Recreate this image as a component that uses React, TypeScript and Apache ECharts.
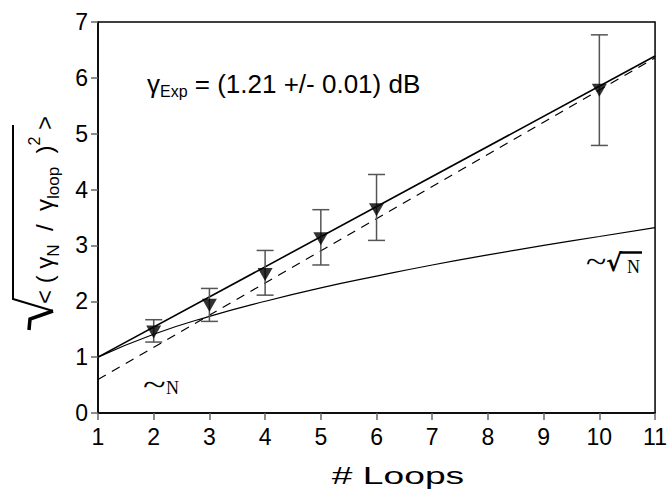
import React, { useEffect, useRef } from 'react';
import * as echarts from 'echarts';

// Measured points (# loops vs normalized spread)
const loops = [2, 3, 4, 5, 6, 10];
const ratio = [1.45, 1.93, 2.48, 3.12, 3.64, 5.78];
const errLow = [1.27, 1.64, 2.11, 2.65, 3.09, 4.79];
const errHigh = [1.67, 2.23, 2.91, 3.64, 4.27, 6.77];

// Fit line (solid) and ~N line (dashed)
const fitX = [1, 11];
const fitY = [1.0, 6.39];
const linX = [1, 11];
const linY = [0.6, 6.36];

// ~sqrt(N) curve values
const sqrtX = [1, 2, 3, 4, 5, 6, 7, 8, 9, 10, 11];
const sqrtY = [1.0, 1.41, 1.73, 2.0, 2.24, 2.45, 2.65, 2.83, 3.0, 3.16, 3.32];

const SANS = '"Liberation Sans", Arial, sans-serif';
const SERIF = '"Liberation Serif", "Times New Roman", serif';

export default function App() {
  const ref = useRef<HTMLDivElement>(null);
  useEffect(() => {
    if (!ref.current) return;
    const chart = echarts.init(ref.current, null, { renderer: 'svg' });
    const axisLabel = { fontSize: 23, color: '#000', fontFamily: SANS };
    const option: any = {
      animation: false,
      backgroundColor: '#fff',
      grid: {
        left: 98, top: 22, right: 14, bottom: 78,
        show: true, borderColor: '#000', borderWidth: 1.5, containLabel: false,
      },
      xAxis: {
        type: 'value', min: 1, max: 11, interval: 1,
        axisLine: { show: true, lineStyle: { color: '#000', width: 1.5 } },
        axisTick: { show: true, length: 7, lineStyle: { color: '#666', width: 1.5 } },
        axisLabel: { ...axisLabel, margin: 12 },
        splitLine: { show: false },
      },
      yAxis: {
        type: 'value', min: 0, max: 7, interval: 1,
        axisLine: { show: true, lineStyle: { color: '#000', width: 1.5 } },
        axisTick: { show: true, length: 7, lineStyle: { color: '#666', width: 1.5 } },
        axisLabel: { ...axisLabel, margin: 10 },
        splitLine: { show: false },
      },
      series: [
        {
          type: 'line', data: sqrtX.map((x, i) => [x, sqrtY[i]]), smooth: true,
          showSymbol: false, lineStyle: { color: '#000', width: 1.2 }, z: 2,
        },
        {
          type: 'line', data: linX.map((x, i) => [x, linY[i]]),
          showSymbol: false, lineStyle: { color: '#000', width: 1.2, type: [9, 7] }, z: 2,
        },
        {
          type: 'line', data: fitX.map((x, i) => [x, fitY[i]]),
          showSymbol: false, lineStyle: { color: '#000', width: 1.6 }, z: 2,
        },
        {
          type: 'custom',
          data: loops.map((x, i) => [x, errLow[i], errHigh[i]]),
          encode: { x: 0, y: [1, 2] },
          z: 3,
          renderItem: (params: any, api: any) => {
            const x = api.value(0);
            const lo = api.coord([x, api.value(1)]);
            const hi = api.coord([x, api.value(2)]);
            const hw = 8.5;
            const style = { stroke: '#555', lineWidth: 1.5, fill: null };
            return {
              type: 'group',
              children: [
                { type: 'line', shape: { x1: lo[0], y1: lo[1], x2: hi[0], y2: hi[1] }, style },
                { type: 'line', shape: { x1: lo[0] - hw, y1: lo[1], x2: lo[0] + hw, y2: lo[1] }, style },
                { type: 'line', shape: { x1: hi[0] - hw, y1: hi[1], x2: hi[0] + hw, y2: hi[1] }, style },
              ],
            };
          },
        },
        {
          type: 'scatter', data: loops.map((x, i) => [x, ratio[i]]),
          symbol: 'triangle', symbolRotate: 180, symbolSize: [15, 13],
          itemStyle: { color: '#000' }, z: 5,
        },
      ],
      graphic: [
        // y-axis label: radical sign + rotated text
        {
          type: 'polyline', z: 10,
          shape: { points: [[13, 125], [13, 299], [53, 311]] },
          style: { stroke: '#000', lineWidth: 2, fill: null },
        },
        {
          type: 'polyline', z: 10,
          shape: { points: [[53, 311], [30, 319], [29, 330]] },
          style: { stroke: '#000', lineWidth: 3.5, fill: null, lineJoin: 'miter' },
        },
        {
          type: 'group', x: 44, y: 210, rotation: Math.PI / 2, z: 10,
          children: [
            {
              type: 'text', x: 0, y: 0,
              style: {
                text: '{m|< ( γ}{s|N}{m|  /  γ}{s|loop}{m|  )}{p|2}{m| >}',
                align: 'center', verticalAlign: 'middle', fill: '#000',
                rich: {
                  m: { fontSize: 24, fontFamily: SANS, fill: '#000', lineHeight: 36, verticalAlign: 'middle' },
                  s: { fontSize: 17, fontFamily: SANS, fill: '#000', lineHeight: 16, verticalAlign: 'bottom' },
                  p: { fontSize: 16, fontFamily: SANS, fill: '#000', lineHeight: 10, verticalAlign: 'top' },
                },
              },
            },
          ],
        },
        // annotation
        {
          type: 'text', x: 147, y: 84, z: 10,
          style: {
            text: '{g|γ}{s|Exp}{m| = (1.21 +/- 0.01) dB}',
            align: 'left', verticalAlign: 'middle', fill: '#000',
            rich: {
              g: { fontSize: 26, fontFamily: SANS, fill: '#000', lineHeight: 30, verticalAlign: 'middle' },
              m: { fontSize: 26, fontFamily: SANS, fill: '#000', lineHeight: 30, verticalAlign: 'middle' },
              s: { fontSize: 16, fontFamily: SANS, fill: '#000', lineHeight: 18, verticalAlign: 'bottom' },
            },
          },
        },
        // ~N label
        {
          type: 'text', x: 143, y: 385, z: 10, scaleX: 1.4,
          style: { text: '~', fontSize: 30, fontFamily: SERIF, fill: '#000', align: 'left', verticalAlign: 'middle' },
        },
        {
          type: 'text', x: 166, y: 388, z: 10,
          style: { text: 'N', fontSize: 18, fontFamily: SERIF, fill: '#000', align: 'left', verticalAlign: 'middle' },
        },
        // ~sqrt(N) label
        {
          type: 'text', x: 586, y: 262, z: 10, scaleX: 1.25,
          style: { text: '~', fontSize: 30, fontFamily: SERIF, fill: '#000', align: 'left', verticalAlign: 'middle' },
        },
        {
          type: 'text', x: 606, y: 263, z: 10,
          style: { text: '√', fontSize: 24, fontWeight: 'bold', fontFamily: '"DejaVu Sans", sans-serif', fill: '#000', align: 'left', verticalAlign: 'middle' },
        },
        {
          type: 'text', x: 627, y: 267, z: 10,
          style: { text: 'N', fontSize: 18, fontFamily: SERIF, fill: '#000', align: 'left', verticalAlign: 'middle' },
        },
        {
          type: 'line', z: 10,
          shape: { x1: 620, y1: 252.5, x2: 642, y2: 252.5 },
          style: { stroke: '#000', lineWidth: 2.5 },
        },
        // x-axis title
        {
          type: 'text', x: 398, y: 476, z: 10, scaleX: 1.55,
          style: { text: '# Loops', fontSize: 24, fontFamily: SANS, fill: '#000', align: 'center', verticalAlign: 'middle' },
        },
      ],
    };
    chart.setOption(option);
    return () => chart.dispose();
  }, []);
  return <div ref={ref} style={{ width: 670, height: 491, position: 'absolute', left: 0, top: 0 }} />;
}
